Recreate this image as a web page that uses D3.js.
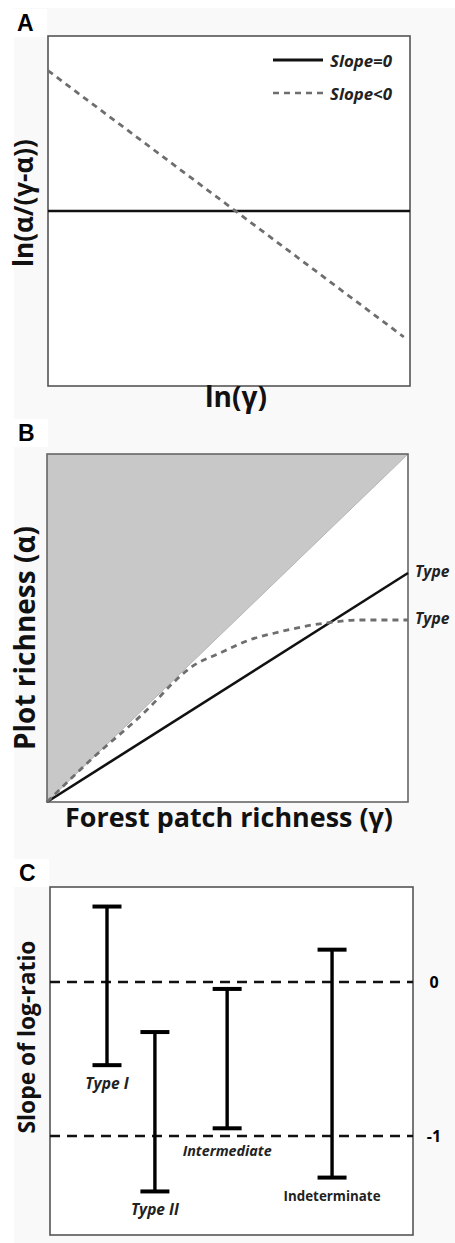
<!DOCTYPE html>
<html><head><meta charset="utf-8">
<script src="https://cdn.jsdelivr.net/npm/d3@7"></script>
<style>body{margin:0;background:#fff}svg{display:block}</style>
</head><body>
<script>
// ---------- Data ----------
// Panel A (arbitrary units 0-100)
const aSolidX = [0, 100];
const aSolidY = [50, 50];
const aDashX = [0, 98.3];
const aDashY = [90.1, 14];
const aLegend = ["Slope=0", "Slope<0"];
// Panel B (gamma, alpha in 0-100)
const bDiagX = [0, 100];
const bDiagY = [0, 100];
const bType1X = [0, 100];
const bType1Y = [0, 65.8];
const bType2X = [0, 12, 28.5, 34.9, 39.6, 47.9, 56.2, 64.5, 72.0, 79.2, 85.9, 100];
const bType2Y = [0, 12, 27.3, 34.2, 38.5, 42.8, 46.6, 48.9, 50.6, 51.7, 52.3, 52.3];
const bLabels = ["Type", "Type"];
// Panel C
const cCategories = ["Type I", "Type II", "Intermediate", "Indeterminate"];
const cPos = [15.7, 28.9, 48.8, 77.7];
const cHigh = [0.49, -0.325, -0.045, 0.21];
const cLow = [-0.54, -1.36, -0.95, -1.27];
const cRefLines = [0, -1];
const cRefLabels = ["0", "-1"];

const W = 455, H = 1243;
const svg = d3.select("body").append("svg").attr("width", W).attr("height", H);
svg.append("rect").attr("x", 14).attr("y", 8).attr("width", W - 14).attr("height", H - 8).attr("fill", "#f9f9f9");

const titleFont = "'Open Sans', sans-serif";

// scale a text's font size so that its rendered length equals target (bounded)
function fit(sel, target, maxSize) {
  const n = sel.node();
  const s = parseFloat(sel.attr("font-size"));
  const len = n.getComputedTextLength();
  if (len > 0) {
    let ns = s * target / len;
    if (maxSize) ns = Math.min(ns, maxSize);
    sel.attr("font-size", ns.toFixed(2));
  }
  return sel;
}

function panelLabel(t, x, y) {
  svg.append("rect").attr("x", x - 6).attr("y", y - 22).attr("width", 36).attr("height", 28).attr("fill", "#fff");
  svg.append("text").attr("x", x).attr("y", y).text(t)
    .attr("font-family", "Arial, 'Liberation Sans', sans-serif").attr("font-weight", "bold")
    .attr("font-size", 23).attr("fill", "#000");
}
function yTitle(t, bx, cy, len, maxSize) {
  const s = svg.append("text").attr("transform", `translate(${bx},${cy}) rotate(-90)`)
    .attr("text-anchor", "middle").attr("fill", "#111")
    .attr("font-family", titleFont).attr("font-weight", "bold").attr("font-size", 22).text(t);
  fit(s, len, maxSize);
}
function xTitle(t, cx, y, len, maxSize) {
  const s = svg.append("text").attr("x", cx).attr("y", y).attr("text-anchor", "middle").attr("fill", "#111")
    .attr("font-family", titleFont).attr("font-weight", "bold").attr("font-size", 22).text(t);
  fit(s, len, maxSize);
}
function smallText(t, x, y, size, len, italic, anchor) {
  const s = svg.append("text").attr("x", x).attr("y", y).attr("text-anchor", anchor || "start")
    .attr("dominant-baseline", "central")
    .attr("font-family", titleFont).attr("font-weight", "bold")
    .attr("font-style", italic ? "italic" : "normal")
    .attr("font-size", size).attr("fill", "#222").text(t);
  fit(s, len, size * 1.25);
  return s;
}

// ---------- Panel A ----------
{
  const L = 48, R = 410, T = 36, B = 386;
  const x = d3.scaleLinear().domain([0, 100]).range([L, R]);
  const y = d3.scaleLinear().domain([0, 100]).range([B, T]);
  svg.append("rect").attr("x", L).attr("y", T).attr("width", R - L).attr("height", B - T)
    .attr("fill", "#fff").attr("stroke", "#555").attr("stroke-width", 1.6);
  const line = d3.line().x(d => x(d[0])).y(d => y(d[1]));
  svg.append("path").datum(d3.zip(aSolidX, aSolidY)).attr("d", line)
    .attr("stroke", "#111").attr("stroke-width", 2.6).attr("fill", "none");
  svg.append("path").datum(d3.zip(aDashX, aDashY)).attr("d", line)
    .attr("stroke", "#6e6e6e").attr("stroke-width", 2.8).attr("stroke-dasharray", "6,5").attr("fill", "none");
  // legend
  [0, 1].forEach(i => {
    const ly = 60 + i * 33;
    svg.append("line").attr("x1", 273).attr("x2", 323).attr("y1", ly).attr("y2", ly)
      .attr("stroke", i ? "#6e6e6e" : "#111").attr("stroke-width", i ? 2.6 : 2.8)
      .attr("stroke-dasharray", i ? "6,5" : null);
    smallText(aLegend[i], 330, ly, 13.5, 62, true);
  });
  yTitle("ln(α/(γ-α))", 33, 203, 161, 26);
  xTitle("ln(γ)", 236, 407, 63, 28);
  panelLabel("A", 17, 31);
}

// ---------- Panel B ----------
{
  const L = 47, R = 408, T = 454, B = 802;
  const x = d3.scaleLinear().domain([0, 100]).range([L, R]);
  const y = d3.scaleLinear().domain([0, 100]).range([B, T]);
  svg.append("rect").attr("x", L).attr("y", T).attr("width", R - L).attr("height", B - T)
    .attr("fill", "#fff");
  // shaded infeasible region (alpha > gamma)
  const area = d3.area().x(d => x(d[0])).y0(y(100)).y1(d => y(d[1]));
  svg.append("path").datum(d3.zip(bDiagX, bDiagY)).attr("d", area).attr("fill", "#c8c8c8");
  const line = d3.line().x(d => x(d[0])).y(d => y(d[1]));
  svg.append("path").datum(d3.zip(bDiagX, bDiagY)).attr("d", line)
    .attr("stroke", "#b5b5b5").attr("stroke-width", 1).attr("fill", "none");
  svg.append("rect").attr("x", L).attr("y", T).attr("width", R - L).attr("height", B - T)
    .attr("fill", "none").attr("stroke", "#666").attr("stroke-width", 1.6);
  svg.append("path").datum(d3.zip(bType1X, bType1Y)).attr("d", line)
    .attr("stroke", "#111").attr("stroke-width", 2.6).attr("fill", "none");
  const curve = d3.line().x(d => x(d[0])).y(d => y(d[1])).curve(d3.curveMonotoneX);
  svg.append("path").datum(d3.zip(bType2X, bType2Y)).attr("d", curve)
    .attr("stroke", "#6e6e6e").attr("stroke-width", 2.8).attr("stroke-dasharray", "6,5").attr("fill", "none");
  [bType1Y[bType1Y.length - 1], bType2Y[bType2Y.length - 1]].forEach((v, i) => {
    smallText(bLabels[i], 415, y(v) - 2, 12.5, 37, true);
  });
  yTitle("Plot richness (α)", 35, 638, 230, 28);
  xTitle("Forest patch richness (γ)", 229, 827, 328, 27);
  panelLabel("B", 18, 441);
}

// ---------- Panel C ----------
{
  const L = 50, R = 413, T = 887, B = 1235;
  const x = d3.scaleLinear().domain([0, 100]).range([L, R]);
  const y = d3.scaleLinear().domain([-1, 0]).range([1136, 982]);
  svg.append("rect").attr("x", L).attr("y", T).attr("width", R - L).attr("height", B - T)
    .attr("fill", "#fff").attr("stroke", "#555").attr("stroke-width", 1.6);
  cRefLines.forEach((v, i) => {
    svg.append("line").attr("x1", L).attr("x2", R).attr("y1", y(v)).attr("y2", y(v))
      .attr("stroke", "#111").attr("stroke-width", 2.4).attr("stroke-dasharray", "10,7");
    svg.append("text").attr("x", 434).attr("y", y(v)).attr("text-anchor", "middle")
      .attr("dominant-baseline", "central").attr("font-family", titleFont).attr("font-weight", "bold")
      .attr("font-size", 16).text(cRefLabels[i]);
  });
  const cap = 14.5;
  const labelLen = [44, 48, 89, 97];
  cCategories.forEach((c, i) => {
    const cx = x(cPos[i]);
    const g = svg.append("g").attr("stroke", "#000").attr("stroke-width", 3.4);
    g.append("line").attr("x1", cx).attr("x2", cx).attr("y1", y(cHigh[i])).attr("y2", y(cLow[i]));
    g.append("line").attr("x1", cx - cap).attr("x2", cx + cap).attr("y1", y(cHigh[i])).attr("y2", y(cHigh[i])).attr("stroke-width", 4);
    g.append("line").attr("x1", cx - cap).attr("x2", cx + cap).attr("y1", y(cLow[i])).attr("y2", y(cLow[i])).attr("stroke-width", 4);
    const italic = i < 3;
    let ly = y(cLow[i]) + 18;
    if (i === 2) ly = y(-1) + 14;
    smallText(c, cx, ly, 12.5, labelLen[i], italic, "middle");
  });
  yTitle("Slope of log-ratio", 35, 1037, 193, 24);
  panelLabel("C", 19, 881);
}
</script>
</body></html>
